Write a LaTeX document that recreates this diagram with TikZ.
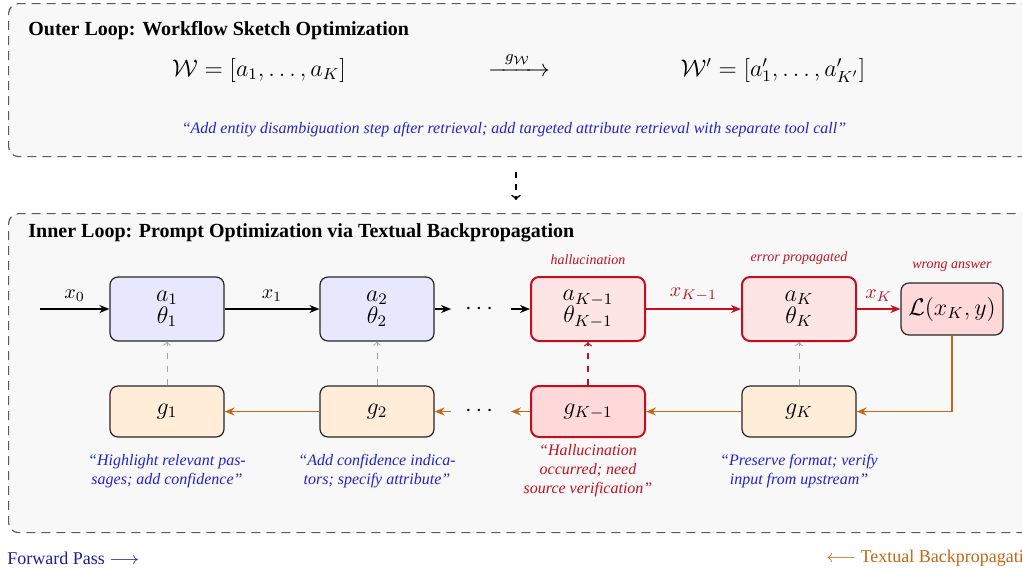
\documentclass[tikz,border=0pt]{standalone}
\usepackage{amsmath}
\usepackage{fontspec}
\setmainfont{Liberation Serif}
\usetikzlibrary{arrows.meta,positioning}
\definecolor{panelfill}{RGB}{248,248,248}
\definecolor{paneldraw}{RGB}{90,90,90}
\definecolor{fwdfill}{RGB}{232,232,252}
\definecolor{errfill}{RGB}{253,229,229}
\definecolor{errfillB}{RGB}{255,217,217}
\definecolor{gfill}{RGB}{255,236,217}
\definecolor{errred}{RGB}{192,16,32}
\definecolor{bporange}{RGB}{196,104,20}
\definecolor{quoteblue}{RGB}{35,35,200}
\definecolor{legblue}{RGB}{30,30,160}
\begin{document}
\begin{tikzpicture}[x=0.5pt,y=-0.5pt,
  panel/.style={draw=paneldraw, fill=panelfill, dash pattern=on 4.5pt off 3pt, rounded corners=5pt, line width=0.6pt, inner sep=0pt},
  fwd/.style={draw=black!85, fill=fwdfill, rounded corners=4pt, minimum width=57pt, minimum height=32pt, line width=0.6pt, align=center, font=\large, inner sep=0pt},
  errnode/.style={fwd, draw=errred, fill=errfill, line width=1pt},
  gnode/.style={fwd, fill=gfill, minimum height=25.5pt},
  gerr/.style={gnode, draw=errred, fill=errfillB, line width=1pt},
  lossnode/.style={draw=black!85, fill=errfillB, rounded corners=4pt, minimum width=51pt, minimum height=26pt, font=\large, line width=0.6pt, inner sep=0pt},
  dotsnode/.style={minimum width=29.5pt, inner sep=0pt, font=\large},
  farrow/.style={-{Stealth[length=5pt,width=4pt]}, thick},
  rarrow/.style={farrow, errred},
  barrow/.style={farrow, bporange, line width=0.95pt},
  upd/.style={dash pattern=on 3pt off 3.5pt, black!35, -to, line width=0.5pt},
  updred/.style={dash pattern=on 3pt off 3.5pt, errred, -to, line width=0.6pt},
  quote/.style={font=\footnotesize\itshape, text=quoteblue, align=center, inner sep=0pt},
  redquote/.style={quote, text=errred},
  errlbl/.style={font=\scriptsize\itshape, text=errred},
  elbl/.style={above},
  title/.style={font=\bfseries, inner sep=0pt, anchor=west},
  midarrow/.style={dashed, thick, black, -to}
]
\useasboundingbox (0,0) rectangle (1022,570);
\clip (0,0) rectangle (1022,570);
\fill[white] (0,0) rectangle (1022,570);

% panels
\node[panel, minimum width=516pt, minimum height=76.5pt, anchor=north west] (outer) at (8,3) {};
\node[panel, minimum width=516pt, minimum height=159.5pt, anchor=north west] (inner) at (8,213) {};

% outer loop
\node[title] (outT) at (28,31) {Outer Loop: Workflow Sketch Optimization};
\node[font=\large, anchor=base] (W) at (259,76) {$\mathcal{W} = [a_1, \ldots, a_K]$};
\node[font=\large, anchor=base] (gW) at (519,76) {$\xrightarrow{\hspace{6pt}g_{\mathcal{W}}\hspace{6pt}}$};
\node[font=\large, anchor=base] (Wp) at (773,76) {$\mathcal{W}' = [a'_1, \ldots, a'_{K'}]$};
\node[quote] (oq) at (514,130) {“Add entity disambiguation step after retrieval; add targeted attribute retrieval with separate tool call”};

% link between loops
\coordinate (m1) at (516,172);
\coordinate (m2) at (516,200);
\draw[midarrow] (m1) -- (m2);

% inner loop
\node[title] (inT) at (28,233) {Inner Loop: Prompt Optimization via Textual Backpropagation};

\node[fwd] (a1) at (167,309) {$a_1$\\[-3pt]$\theta_1$};
\node[fwd] (a2) at (377,309) {$a_2$\\[-3pt]$\theta_2$};
\node[dotsnode] (fd) at (481,309) {$\cdots$};
\node[errnode] (aK1) at (588,309) {$a_{K-1}$\\[-3pt]$\theta_{K-1}$};
\node[errnode] (aK) at (799,309) {$a_K$\\[-3pt]$\theta_K$};
\node[lossnode] (L) at (952,309) {$\mathcal{L}(x_K, y)$};

\node[gnode] (g1) at (167,411.5) {$g_1$};
\node[gnode] (g2) at (377,411.5) {$g_2$};
\node[dotsnode] (bd) at (481,411.5) {$\cdots$};
\node[gerr] (gK1) at (588,411.5) {$g_{K-1}$};
\node[gnode] (gK) at (799,411.5) {$g_K$};

\node[errlbl, above=2pt of aK1] (hl) {hallucination};
\node[errlbl, above=2pt of aK] (ep) {error propagated};
\node[errlbl, above=2pt of L] (wa) {wrong answer};

% forward
\coordinate (x0s) at (40,309);
\draw[farrow] (x0s) -- node[elbl] {$x_0$} (a1);
\draw[farrow] (a1) -- node[elbl] {$x_1$} (a2);
\draw[farrow] (a2) -- (fd);
\draw[farrow] (fd) -- (aK1);
\draw[rarrow] (aK1) -- node[elbl, text=errred] {$x_{K-1}$} (aK);
\draw[rarrow] (aK) -- node[elbl, text=errred] {$x_K$} (L);

% backward
\draw[barrow] (L.south) |- (gK);
\draw[barrow] (gK) -- (gK1);
\draw[barrow] (gK1) -- (bd);
\draw[barrow] (bd) -- (g2);
\draw[barrow] (g2) -- (g1);

% updates
\draw[upd] (g1) -- (a1);
\draw[upd] (g2) -- (a2);
\draw[updred] (gK1) -- (aK1);
\draw[upd] (gK) -- (aK);

% feedback texts
\node[quote] (q1) at (167,471) {“Highlight relevant pas-\\sages; add confidence”};
\node[quote] (q2) at (377,471) {“Add confidence indica-\\tors; specify attribute”};
\node[redquote] (q3) at (588,471) {“Hallucination\\occurred; need\\source verification”};
\node[quote] (q4) at (799,471) {“Preserve format; verify\\input from upstream”};

% legend
\node[anchor=west, font=\small, text=legblue, inner sep=0pt] (fp) at (7,558) {Forward Pass $\longrightarrow$};
\node[anchor=west, font=\small, text=bporange, inner sep=0pt] (tb) at (826,558) {$\longleftarrow$ Textual Backpropagation};
\end{tikzpicture}
\end{document}
